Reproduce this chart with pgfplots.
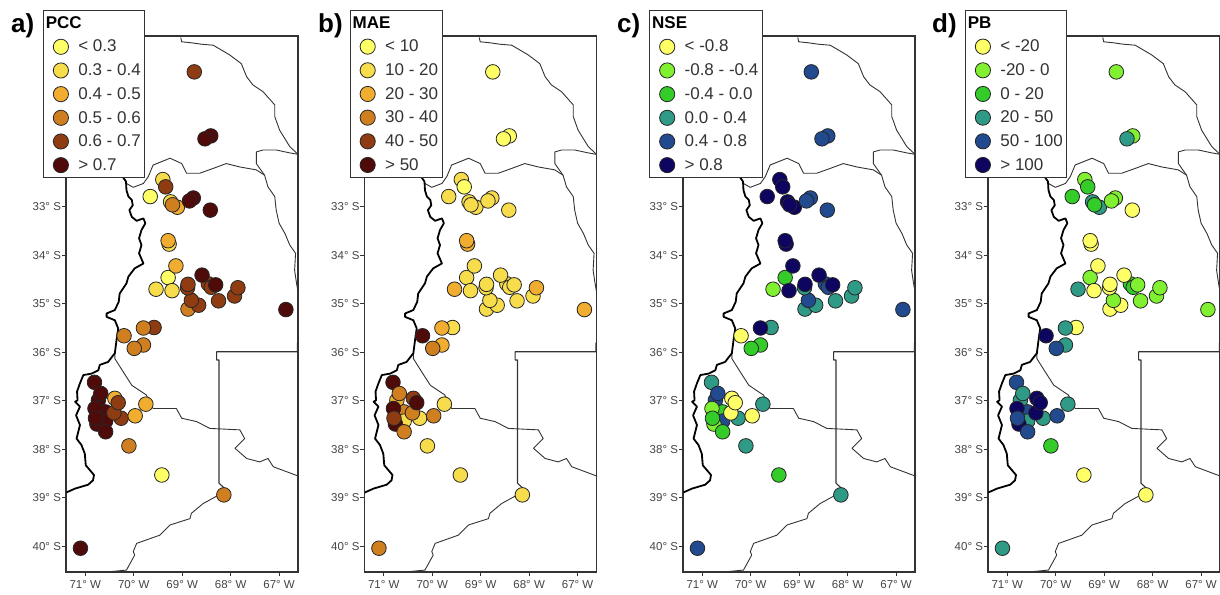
\documentclass[border=0pt]{standalone}
\usepackage{fontspec}
\setmainfont{Liberation Sans}
\usepackage{pgfplots}
\usepackage{pgfplotstable}
\pgfplotsset{compat=1.18}
\definecolor{ta0}{HTML}{FFFF66}\definecolor{ta1}{HTML}{F7DC4C}\definecolor{ta2}{HTML}{F0AD30}
\definecolor{ta3}{HTML}{D07F20}\definecolor{ta4}{HTML}{8F3C12}\definecolor{ta5}{HTML}{4F0A0A}
\definecolor{tc0}{HTML}{FFFF66}\definecolor{tc1}{HTML}{80F030}\definecolor{tc2}{HTML}{33CC29}
\definecolor{tc3}{HTML}{2F9A85}\definecolor{tc4}{HTML}{214A8F}\definecolor{tc5}{HTML}{0D0560}
\definecolor{tick}{HTML}{444444}\definecolor{frame}{HTML}{333333}
% stations: lon lat, then class in each of the four maps
\pgfplotstableread{
lon lat a b c d
-68.75 -30.22 4 0 4 1
-68.41 -31.54 5 0 4 1
-68.53 -31.60 5 0 4 3
-69.40 -32.44 1 1 5 1
-69.34 -32.59 4 0 5 2
-69.66 -32.79 0 1 5 2
-69.10 -33.01 2 1 5 3
-69.24 -32.90 1 1 5 3
-69.20 -32.96 3 1 5 2
-68.77 -32.82 5 1 4 1
-68.85 -32.88 5 1 4 1
-68.42 -33.07 5 1 4 0
-69.27 -33.77 1 2 5 0
-69.29 -33.70 2 2 5 0
-69.29 -34.46 0 1 2 1
-69.54 -34.70 1 2 1 3
-69.21 -34.73 1 1 5 0
-69.13 -34.22 2 1 5 0
-68.88 -35.11 3 1 3 0
-68.66 -35.03 4 1 3 0
-68.81 -34.93 4 1 4 1
-68.89 -34.67 4 1 3 0
-68.88 -34.60 4 1 5 0
-68.46 -34.59 4 1 4 2
-68.40 -34.66 4 1 4 2
-68.59 -34.41 5 1 5 0
-68.31 -34.61 5 1 5 1
-68.25 -34.94 4 1 3 1
-67.92 -34.84 4 1 3 1
-67.85 -34.67 4 2 3 1
-66.86 -35.12 5 2 4 1
-69.58 -35.49 4 1 3 0
-69.80 -35.50 3 2 5 3
-70.20 -35.66 3 5 0 5
-69.80 -35.85 3 2 2 3
-69.99 -35.92 3 3 2 4
-70.81 -36.62 5 5 3 4
-70.73 -36.99 5 2 4 3
-70.68 -36.85 5 3 4 3
-70.58 -37.23 5 3 2 4
-70.58 -37.42 5 1 4 3
-70.76 -37.48 5 5 1 5
-70.58 -37.64 5 3 2 4
-70.26 -37.36 4 1 3 3
-70.41 -37.25 4 3 0 5
-70.39 -36.95 2 4 0 5
-70.32 -37.04 4 5 0 5
-69.97 -37.31 2 3 0 4
-69.75 -37.07 2 1 3 3
-70.80 -37.16 5 5 1 5
-70.79 -37.36 5 4 2 4
-70.10 -37.93 3 1 3 2
-69.42 -38.53 0 1 2 0
-68.14 -38.94 3 1 3 0
-71.10 -40.04 5 3 4 3
}\stations
\pgfplotsset{
  mapaxis/.style={
    scale only axis, width=232pt, height=536pt, anchor=south west,
    xmin=-71.398, xmax=-66.61, ymin=-40.53, ymax=-29.48,
    axis line style={frame,line width=1.1pt},
    xtick={-71,-70,-69,-68,-67},
    xticklabels={71° W,70° W,69° W,68° W,67° W},
    ytick={-40,-39,-38,-37,-36,-35,-34,-33},
    yticklabels={40° S,39° S,38° S,37° S,36° S,35° S,34° S,33° S},
    tick align=outside, tick pos=left, major tick length=4.5pt,
    tick style={frame,line width=0.8pt},
    ticklabel style={font=\fontsize{11.5}{12}\selectfont,text=tick},
    xticklabel style={yshift=0pt}, yticklabel style={xshift=3pt},
    legend cell align=left,
    legend image code/.code={\draw[##1] plot coordinates {(8pt,0pt)};\path (-6pt,0pt) (24pt,0pt);},
    legend style={anchor=north west,fill=white,draw=frame,line width=0.9pt,
      font=\fontsize{17}{17}\selectfont,text=black!80,
      inner xsep=3pt,inner ysep=5pt,row sep=8.3pt,
      nodes={inner sep=1pt,anchor=west}},
  },
  bd/.style={no marks,frame,line width=0.9pt,line join=round,forget plot},
}
% legend labels
\newcommand{\panel}[6]{% left, column, colour prefix, title, legend x, text width
\begin{axis}[mapaxis,at={(#1pt,22pt)},legend style={at={(axis description cs:#5,1.0485)}}]
\addplot[bd] coordinates {(-69.03,-29.51)(-69.01,-29.60)(-68.81,-29.62)(-68.60,-29.65)(-68.36,-29.67)(-68.19,-29.77)(-68.02,-29.87)(-67.78,-30.05)(-67.67,-30.32)(-67.54,-30.49)(-67.33,-30.63)(-67.09,-30.90)(-67.09,-31.14)(-66.99,-31.42)(-66.78,-31.76)(-66.61,-31.92)};
\addplot[bd] coordinates {(-66.61,-31.92)(-66.78,-31.89)(-67.06,-31.83)(-67.33,-31.83)(-67.47,-31.87)(-67.47,-32.11)(-67.30,-32.35)};
\addplot[bd] coordinates {(-70.15,-32.52)(-70.01,-32.60)(-69.80,-32.52)(-69.70,-32.38)(-69.60,-32.14)(-69.25,-32.00)(-69.01,-32.11)(-68.91,-32.31)(-68.64,-32.31)(-68.36,-32.21)(-68.09,-32.11)(-67.81,-32.18)(-67.47,-32.24)(-67.30,-32.35)(-67.23,-32.59)(-67.09,-32.79)(-67.06,-33.07)(-67.00,-33.34)(-66.88,-33.55)(-66.78,-33.79)(-66.66,-33.96)(-66.68,-34.31)(-66.64,-34.58)(-66.61,-34.75)};
\addplot[bd] coordinates {(-70.39,-36.02)(-70.39,-36.13)(-70.22,-36.40)(-70.04,-36.68)(-69.74,-36.88)(-69.60,-37.16)(-69.12,-37.16)(-69.01,-37.36)(-68.70,-37.43)(-68.43,-37.57)(-67.81,-37.60)(-67.71,-37.78)(-67.91,-37.98)(-67.67,-38.19)(-67.40,-38.26)(-67.23,-38.19)(-67.12,-38.36)(-66.61,-38.55)};
\addplot[bd,line width=1.1pt] coordinates {(-66.62,-35.80)(-66.62,-35.99)(-68.29,-35.99)(-68.29,-36.16)(-68.24,-36.16)(-68.24,-38.70)(-68.12,-38.81)};
\addplot[bd] coordinates {(-68.14,-38.95)(-68.26,-38.95)(-68.57,-39.12)(-68.81,-39.32)(-68.84,-39.43)(-69.25,-39.56)(-69.46,-39.77)(-69.94,-39.94)(-70.01,-40.11)(-69.98,-40.18)(-70.15,-40.49)(-70.56,-40.53)};
\addplot[bd,black,line width=1.8pt] coordinates {(-70.23,-32.38)(-70.16,-32.48)(-70.15,-32.66)(-70.11,-32.79)(-70.04,-32.86)(-70.02,-32.97)(-70.09,-33.07)(-70.04,-33.21)(-69.94,-33.29)(-69.80,-33.24)(-69.76,-33.34)(-69.84,-33.48)(-69.89,-33.65)(-69.84,-33.79)(-69.89,-33.96)(-69.80,-34.17)(-69.98,-34.27)(-70.11,-34.44)(-70.15,-34.58)(-70.29,-34.79)(-70.31,-34.96)(-70.39,-35.13)(-70.56,-35.20)(-70.56,-35.27)(-70.39,-35.34)(-70.32,-35.51)(-70.35,-35.71)(-70.39,-36.02)(-70.53,-36.20)(-70.70,-36.26)(-70.73,-36.37)(-70.87,-36.44)(-71.04,-36.47)(-71.11,-36.64)(-71.17,-36.81)(-71.16,-36.99)(-71.21,-37.02)(-71.11,-37.12)(-71.19,-37.30)(-71.11,-37.50)(-71.18,-37.78)(-71.08,-37.91)(-71.01,-38.09)(-70.99,-38.33)(-70.82,-38.53)(-70.84,-38.64)(-70.94,-38.73)(-71.21,-38.81)(-71.39,-38.89)};
\addplot[scatter,only marks,mark=*,mark size=7.3pt,forget plot,
  scatter src=explicit symbolic,
  scatter/classes={
   0={mark=*,fill=#30,draw=black!85,line width=0.8pt},
   1={mark=*,fill=#31,draw=black!85,line width=0.8pt},
   2={mark=*,fill=#32,draw=black!85,line width=0.8pt},
   3={mark=*,fill=#33,draw=black!85,line width=0.8pt},
   4={mark=*,fill=#34,draw=black!85,line width=0.8pt},
   5={mark=*,fill=#35,draw=black!85,line width=0.8pt}}]
  table[x=lon,y=lat,meta=#2]{\stations};
\addlegendimage{empty legend}
\addlegendentry{\makebox[#6pt][l]{\hspace*{-32.5pt}\textcolor{black}{\bfseries #4}}}
\addlegendimage{only marks,mark=*,mark size=7.6pt,mark options={fill=#30,draw=black!85,line width=0.8pt}}\addlegendentry{\makebox[#6pt][l]{\la}}
\addlegendimage{only marks,mark=*,mark size=7.6pt,mark options={fill=#31,draw=black!85,line width=0.8pt}}\addlegendentry{\lb}
\addlegendimage{only marks,mark=*,mark size=7.6pt,mark options={fill=#32,draw=black!85,line width=0.8pt}}\addlegendentry{\lc}
\addlegendimage{only marks,mark=*,mark size=7.6pt,mark options={fill=#33,draw=black!85,line width=0.8pt}}\addlegendentry{\ld}
\addlegendimage{only marks,mark=*,mark size=7.6pt,mark options={fill=#34,draw=black!85,line width=0.8pt}}\addlegendentry{\le}
\addlegendimage{only marks,mark=*,mark size=7.6pt,mark options={fill=#35,draw=black!85,line width=0.8pt}}\addlegendentry{\lf}
\end{axis}}
\begin{document}
\begin{tikzpicture}[x=1pt,y=1pt]
\path[use as bounding box] (0,0) rectangle (1220,594);
\def\la{< 0.3}\def\lb{0.3 - 0.4}\def\lc{0.4 - 0.5}\def\ld{0.5 - 0.6}\def\le{0.6 - 0.7}\def\lf{> 0.7}
\panel{66}{a}{ta}{PCC}{-0.0991}{60}
\def\la{< 10}\def\lb{10 - 20}\def\lc{20 - 30}\def\ld{30 - 40}\def\le{40 - 50}\def\lf{> 50}
\panel{364.5}{b}{ta}{MAE}{-0.0634}{50.7}
\def\la{< -0.8}\def\lb{-0.8 - -0.4}\def\lc{-0.4 - 0.0}\def\ld{0.0 - 0.4}\def\le{0.4 - 0.8}\def\lf{> 0.8}
\panel{683}{c}{tc}{NSE}{-0.1453}{71.7}
\def\la{< -20}\def\lb{-20 - 0}\def\lc{0 - 20}\def\ld{20 - 50}\def\le{50 - 100}\def\lf{> 100}
\panel{988}{d}{tc}{PB}{-0.0991}{62}
\foreach \lx/\lt in {11/a),318/b),617/c),932/d)}
  \node[anchor=base west,inner sep=0pt,font=\fontsize{26}{26}\selectfont\bfseries] at (\lx,561) {\lt};
\end{tikzpicture}
\end{document}
